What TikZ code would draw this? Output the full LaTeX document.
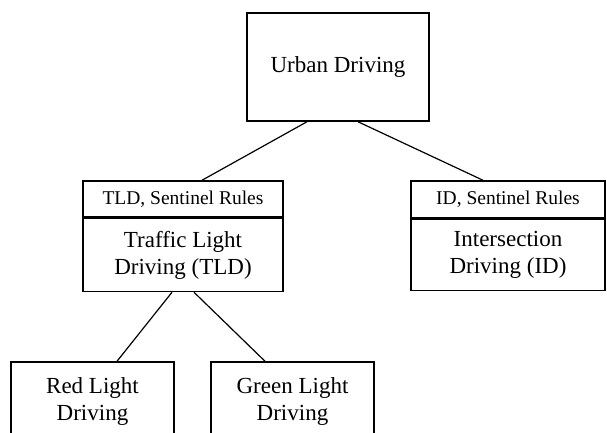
\documentclass[tikz,border=0pt]{standalone}
\usepackage{fontspec}
\setmainfont{Liberation Serif}
\usetikzlibrary{positioning}

\begin{document}
\begin{tikzpicture}[
    x=1pt, y=1pt,
    box/.style={draw, line width=1.5pt, align=center, inner sep=0pt,
                font=\fontsize{23}{27}\selectfont},
    head/.style={draw, line width=1.5pt, inner sep=0pt,
                 font=\fontsize{19.5}{23}\selectfont},
    link/.style={line width=1.2pt}
  ]
  \clip (0,0) rectangle (607,-432);

  % Root
  \node[box, minimum width=182pt, minimum height=108pt] (urban) at (338,-67)
    {Urban Driving};

  % Traffic light branch
  \node[head, minimum width=200pt, minimum height=36pt] (tldhead) at (183,-199)
    {TLD, Sentinel Rules};
  \node[box, minimum width=200pt, minimum height=73pt, below=0pt of tldhead] (tld)
    {Traffic Light\\Driving (TLD)};

  % Intersection branch
  \node[head, minimum width=194pt, minimum height=37pt] (idhead) at (508,-199.5)
    {ID, Sentinel Rules};
  \node[box, minimum width=194pt, minimum height=71pt, below=0pt of idhead] (id)
    {Intersection\\Driving (ID)};

  % Leaves
  \node[box, minimum width=163pt, minimum height=78pt] (red) at (92.5,-401)
    {Red Light\\Driving};
  \node[box, minimum width=163pt, minimum height=78pt] (green) at (292.5,-401)
    {Green Light\\Driving};

  % Links
  \draw[link] ([xshift=-31pt]urban.south) -- ([xshift=19pt]tldhead.north);
  \draw[link] ([xshift=20pt]urban.south) -- ([xshift=-25pt]idhead.north);
  \draw[link] ([xshift=-11pt]tld.south) -- ([xshift=24.5pt]red.north);
  \draw[link] ([xshift=11pt]tld.south) -- ([xshift=-27.5pt]green.north);
\end{tikzpicture}
\end{document}
